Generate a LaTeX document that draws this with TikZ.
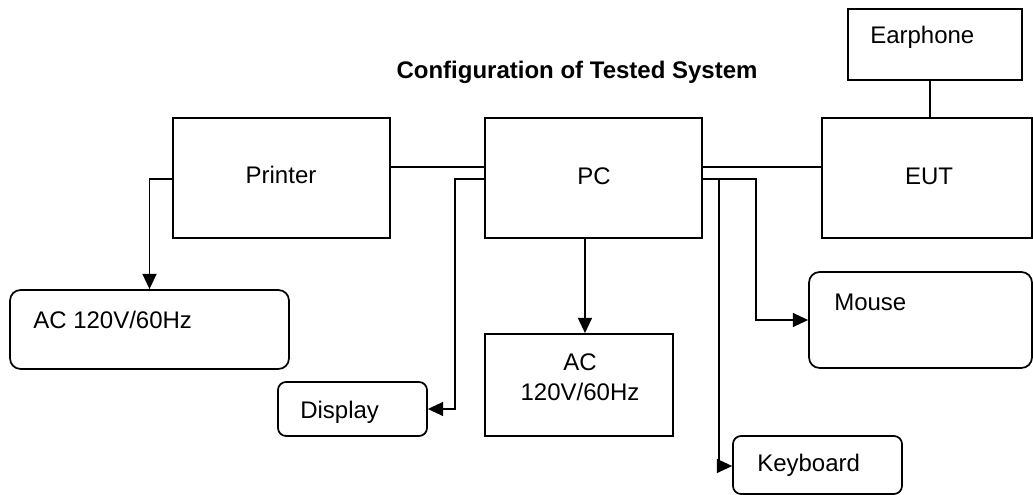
\documentclass[tikz,border=0pt]{standalone}
\usepackage{fontspec}
\setmainfont{Liberation Sans}
\usetikzlibrary{arrows.meta}
\begin{document}
\begin{tikzpicture}[x=0.75pt,y=-0.75pt,
  box/.style={draw,line width=1.3pt,inner sep=0pt},
  rbox/.style={box,rounded corners=8pt},
  txt/.style={inner sep=0pt,font=\fontsize{18pt}{22.5pt}\selectfont},
  ttl/.style={inner sep=0pt,font=\fontsize{18pt}{22.5pt}\selectfont\bfseries},
  wire/.style={line width=1.3pt},
  arr/.style={wire,-{Triangle[length=11.5pt,width=10.5pt]}}]
\useasboundingbox (0,0) rectangle (1033,495);
% title
\node[ttl,anchor=base] (title) at (577,79) {Configuration of Tested System};
% boxes
\node[box,minimum width=162.75pt,minimum height=90pt] (printer) at (281.5,178) {};
\node[box,minimum width=162.75pt,minimum height=90pt] (pc) at (593.5,178) {};
\node[box,minimum width=157.5pt,minimum height=90pt] (eut) at (927,178) {};
\node[box,minimum width=130.5pt,minimum height=53.25pt] (earphone) at (935,44.5) {};
\node[rbox,minimum width=209.25pt,minimum height=59.25pt] (ac1) at (149.5,329.5) {};
\node[box,minimum width=141pt,minimum height=76.5pt] (ac2) at (579,385) {};
\node[rbox,rounded corners=6pt,minimum width=111.75pt,minimum height=40.5pt] (display) at (352.5,409) {};
\node[rbox,minimum width=167.25pt,minimum height=72pt] (mouse) at (920.5,320) {};
\node[rbox,rounded corners=6pt,minimum width=126.75pt,minimum height=43.5pt] (keyboard) at (817.5,465) {};
% texts
\node[txt,anchor=base] (printert) at (281,183.6) {Printer};
\node[txt,anchor=base] (pct) at (594,184.6) {PC};
\node[txt,anchor=base] (eutt) at (929,185) {EUT};
\node[txt,anchor=base west] (earphonet) at (870,44) {Earphone};
\node[txt,anchor=base west] (ac1t) at (33,328.6) {AC 120V/60Hz};
\node[txt,anchor=base] (ac2ta) at (580,370.6) {AC};
\node[txt,anchor=base] (ac2tb) at (580,400.6) {120V/60Hz};
\node[txt,anchor=base west] (displayt) at (300,418.6) {Display};
\node[txt,anchor=base west] (mouset) at (834,310.6) {Mouse};
\node[txt,anchor=base west] (keyboardt) at (757,471.6) {Keyboard};
% connectors
\draw[wire] ([yshift=8.25pt]printer.east) -- ([yshift=8.25pt]pc.west);
\draw[wire] ([yshift=8.25pt]pc.east) -- ([yshift=8.25pt]eut.west);
\draw[wire] ([xshift=-3.75pt]earphone.south) -- ([xshift=-3.75pt]earphone.south |- eut.north);
\draw[arr] ([yshift=-0.75pt]printer.west) -| (ac1.north);
\draw[arr] ([xshift=-6.4pt]pc.south) -- ([xshift=-6.4pt]pc.south |- ac2.north);
\draw[arr] ([yshift=-0.75pt]pc.west) -- ++(-21.75pt,0) |- (display.east);
\draw[arr] ([yshift=-0.75pt]pc.east) -- ++(39.75pt,0) |- (mouse.west);
\draw[arr] ([yshift=-0.75pt]pc.east) -- ++(12pt,0) |- ([yshift=-0.75pt]keyboard.west);
\end{tikzpicture}
\end{document}
